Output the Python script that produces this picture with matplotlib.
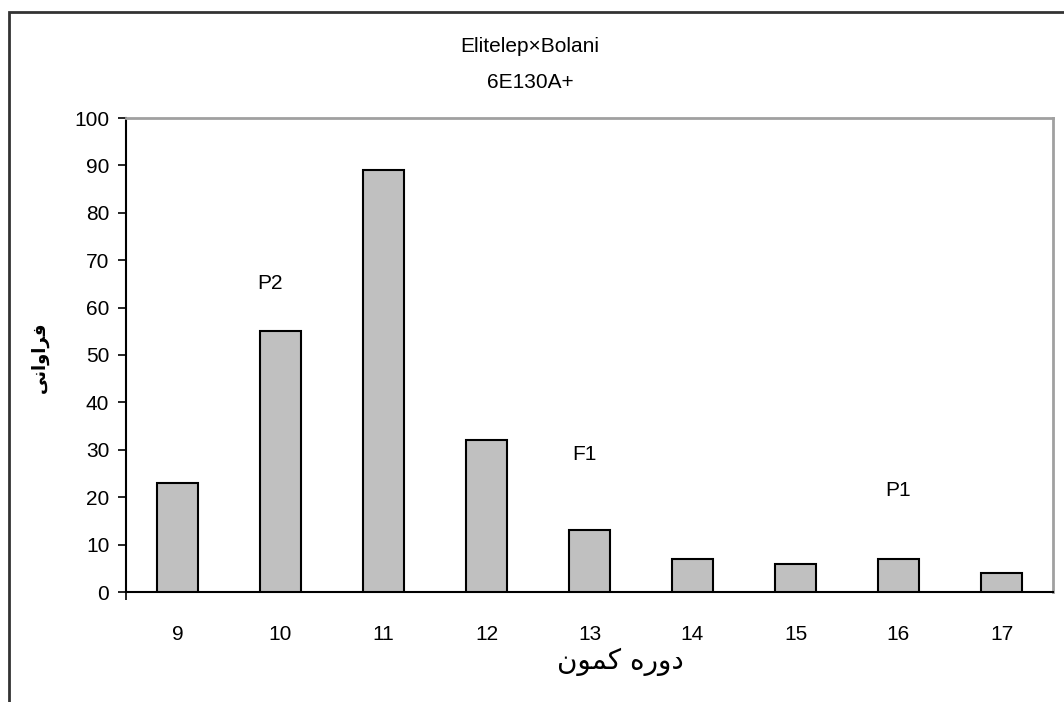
import numpy as np
import matplotlib.pyplot as plt
from matplotlib.patches import Rectangle

plt.rcParams['font.family'] = ['Liberation Sans', 'DejaVu Sans']

# latency period classes and their frequencies
periods = ['9', '10', '11', '12', '13', '14', '15', '16', '17']
counts = [23, 55, 89, 32, 13, 7, 6, 7, 4]

# parent / F1 markers: (label, category index, height)
marker_labels = ['P2', 'F1', 'P1']
marker_x = [0.9, 3.95, 7.0]
marker_y = [65, 29, 21.5]

# Persian labels written in presentation forms, left-to-right visual order
xlabel_fa = '\ufee5\ufeee\ufee4\ufb90 \ufee9\ufead\ufeed\ufea9'   # دوره کمون
ylabel_fa = '\ufef0\ufee7\ufe8d\ufeed\ufe8d\ufeae\ufed3'          # فراوانی

fig = plt.figure(figsize=(10.64, 7.02), dpi=100)
ax = fig.add_axes([126 / 1064, 1 - 592 / 702, (1053 - 126) / 1064, (592 - 118) / 702])

x = np.arange(len(periods))
ax.bar(x, counts, width=0.4, color='#c0c0c0', edgecolor='black', linewidth=1.5, zorder=3)

for lab, mx, my in zip(marker_labels, marker_x, marker_y):
    ax.text(mx, my, lab, ha='center', va='center', fontsize=15)

ax.set_xlim(-0.5, len(periods) - 0.5)
ax.set_ylim(0, 100)
ax.set_yticks(np.arange(0, 101, 10))
ax.set_xticks(x)
ax.set_xticklabels(periods)
ax.tick_params(axis='x', length=0, pad=24, labelsize=15)
ax.tick_params(axis='y', direction='out', length=6, width=1.2, pad=6, labelsize=15)
# short tick below the origin
ax.set_xticks([-0.5], minor=True)
ax.tick_params(axis='x', which='minor', direction='out', length=6, width=1.2)

for side in ['left', 'bottom']:
    ax.spines[side].set_color('black')
    ax.spines[side].set_linewidth(1.5)
for side in ['top', 'right']:
    ax.spines[side].set_color('#a0a0a0')
    ax.spines[side].set_linewidth(2)

fig.text(530 / 1064, 1 - 47 / 702, 'Elitelep\u00d7Bolani', ha='center', va='center', fontsize=15)
fig.text(530 / 1064, 1 - 82 / 702, '6E130A+', ha='center', va='center', fontsize=15)

fig.text(620 / 1064, 1 - 662 / 702, xlabel_fa, ha='center', va='center',
         fontsize=20, family=['DejaVu Sans'])
fig.text(40 / 1064, 1 - 357 / 702, ylabel_fa, ha='center', va='center', rotation=90,
         fontsize=13, fontweight='bold', family=['DejaVu Sans'])

# chart area border
fig.patches.append(Rectangle((9 / 1064, -0.1), 1.2, 1.1 - 12 / 702, transform=fig.transFigure,
                             fill=False, edgecolor='#333333', linewidth=2))

fig.savefig('out.png', dpi=100, facecolor='white')
